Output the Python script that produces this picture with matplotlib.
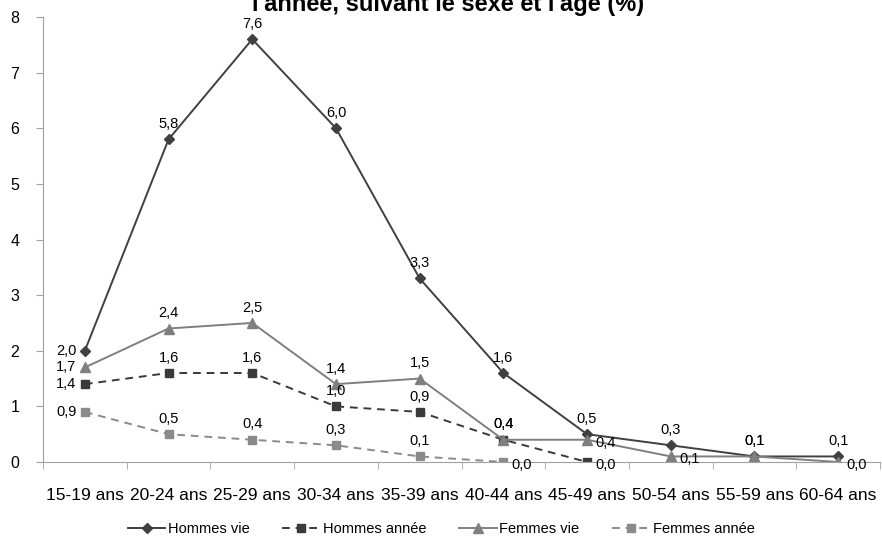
import numpy as np
import matplotlib.pyplot as plt

plt.rcParams['font.family'] = ['Liberation Sans', 'DejaVu Sans']

# %% data
categories = ['15-19 ans', '20-24 ans', '25-29 ans', '30-34 ans', '35-39 ans',
              '40-44 ans', '45-49 ans', '50-54 ans', '55-59 ans', '60-64 ans']
hommes_vie = [2.0, 5.8, 7.6, 6.0, 3.3, 1.6, 0.5, 0.3, 0.1, 0.1]
hommes_annee = [1.4, 1.6, 1.6, 1.0, 0.9, 0.4, 0.0, np.nan, np.nan, np.nan]
femmes_vie = [1.7, 2.4, 2.5, 1.4, 1.5, 0.4, 0.4, 0.1, 0.1, 0.0]
femmes_annee = [0.9, 0.5, 0.4, 0.3, 0.1, 0.0, np.nan, np.nan, np.nan, np.nan]

# label placement per point: 'a' above, 'l' left, 'r' right
pos_hv = ['l', 'a', 'a', 'a', 'a', 'a', 'a', 'a', 'a', 'a']
pos_ha = ['l', 'a', 'a', 'a', 'a', 'a', 'r', None, None, None]
pos_fv = ['l', 'a', 'a', 'a', 'a', 'a', 'r', 'r', 'a', 'r']
pos_fa = ['l', 'a', 'a', 'a', 'a', 'r', None, None, None, None]

# %% figure
fig = plt.figure(figsize=(8.82, 5.46), dpi=100)
ax = fig.add_axes([43 / 882, 1 - 462 / 546, 837 / 882, 445 / 546])
x = np.arange(len(categories))

series = [
    (hommes_vie, 'Hommes vie', '#404040', '-', 'D', 5, pos_hv),
    (hommes_annee, 'Hommes année', '#3a3a3a', '--', 's', 6, pos_ha),
    (femmes_vie, 'Femmes vie', '#7f7f7f', '-', '^', 7, pos_fv),
    (femmes_annee, 'Femmes année', '#8a8a8a', '--', 's', 6, pos_fa),
]

for vals, name, col, ls, mk, ms, pos in series:
    ax.plot(x, vals, color=col, ls=ls, lw=1.4, marker=mk, ms=ms,
            markeredgecolor=col, label=name, dashes=(4, 3) if ls == '--' else (None, None))
    for xi, v, p in zip(x, vals, pos):
        if p is None or np.isnan(v):
            continue
        lab = f'{v:.1f}'.replace('.', ',')
        if p == 'a':
            ax.annotate(lab, (xi, v), xytext=(0, 6), textcoords='offset points',
                        ha='center', va='bottom', fontsize=10.5)
        elif p == 'l':
            ax.annotate(lab, (xi, v), xytext=(-6, 0), textcoords='offset points',
                        ha='right', va='center', fontsize=10.5)
        else:
            ax.annotate(lab, (xi, v), xytext=(6, -2), textcoords='offset points',
                        ha='left', va='center', fontsize=10.5)

ax.set_xlim(-0.5, len(categories) - 0.5)
ax.set_ylim(0, 8)
ax.set_yticks(range(0, 9))
ax.set_xticks(x)
ax.set_xticklabels(categories, fontsize=12.5)
ax.set_xticks(np.arange(-0.5, len(categories)), minor=True)
ax.tick_params(axis='x', which='major', length=0, pad=19)
ax.tick_params(axis='x', which='minor', length=5, color='#a0a0a0', direction='out')
ax.tick_params(axis='y', length=5, color='#a0a0a0', labelsize=11.5, pad=12)
for s in ['top', 'right']:
    ax.spines[s].set_visible(False)
for s in ['left', 'bottom']:
    ax.spines[s].set_color('#a0a0a0')

# title is cut off by the top edge in the original
fig.text(448 / 882, 1 - 11 / 546, "l'année, suivant le sexe et l'âge (%)",
         ha='center', va='baseline', fontsize=17, fontweight='bold')

fig.legend(loc='center', bbox_to_anchor=(0.5, 1 - 529 / 546), ncol=4,
           frameon=False, fontsize=10.5, handlelength=2.6, handletextpad=0.2,
           columnspacing=2.2)

fig.savefig('out.png', dpi=100)
